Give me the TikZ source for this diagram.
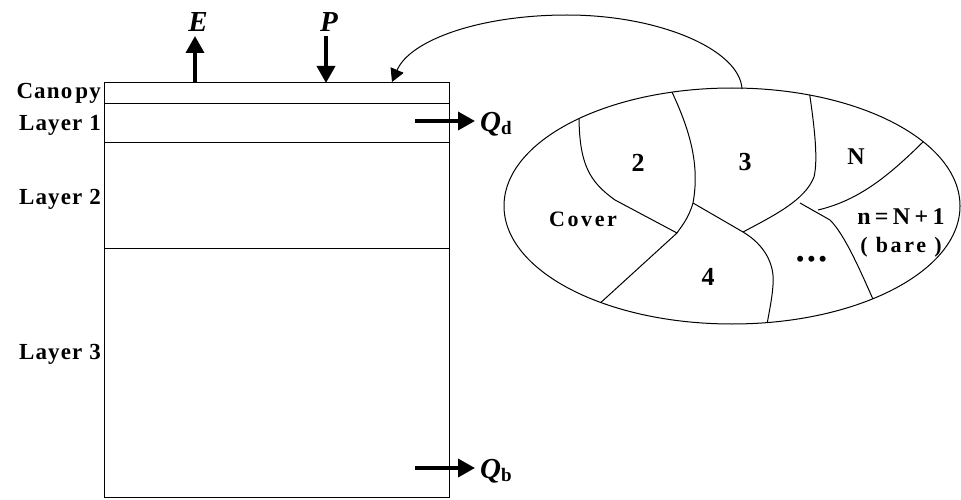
\documentclass[tikz,border=0pt]{standalone}
\usepackage{fontspec}
\setmainfont{Liberation Serif}
\newfontfamily\tnr{Liberation Serif}
\newfontfamily\tnrls[LetterSpace=5]{Liberation Serif}
\newfontfamily\tnrlsm[LetterSpace=12]{Liberation Serif}
\newfontfamily\tnrlsw[LetterSpace=18]{Liberation Serif}
\usetikzlibrary{arrows.meta,shapes.geometric}
\tikzset{
  thin line/.style={line width=1pt},
  flux/.style={line width=3.5pt,-{Triangle[length=17pt,width=18pt]}},
  linkarrow/.style={line width=1pt,-{Triangle[length=13pt,width=14pt]}},
  layerlab/.style={anchor=east,inner sep=0pt,font=\fontsize{23}{27}\selectfont\tnrls\bfseries},
  fluxlab/.style={inner sep=0pt,font=\fontsize{29}{32}\selectfont\tnr\bfseries\itshape},
  zonenum/.style={inner sep=0pt,font=\fontsize{26}{30}\selectfont\tnr\bfseries},
  zonelab/.style={inner sep=0pt,font=\fontsize{22}{26}\selectfont\tnrlsm\bfseries},
}
\begin{document}
\begin{tikzpicture}[x=1pt,y=-1pt]
\useasboundingbox (0,0) rectangle (961,500);
% soil column
\draw[thin line] (104,83) rectangle (449,497);
\draw[thin line] (104,104) -- (449,104);
\draw[thin line] (104,143) -- (449,143);
\draw[thin line] (104,248) -- (449,248);
\node[layerlab] (canopy) at (101,93) {Cano\kern3pt py};
\node[layerlab] (l1) at (101,125) {Layer 1};
\node[layerlab] (l2) at (101,199) {Layer 2};
\node[layerlab] (l3) at (101,354) {Layer 3};
% fluxes
\coordinate (Ebase) at (195,83);
\coordinate (Etip) at (195,36);
\coordinate (Ptop) at (326,36);
\coordinate (Ptip) at (326,83);
\draw[flux] (Ebase) -- (Etip);
\draw[flux] (Ptop) -- (Ptip);
\node[fluxlab] (E) at (198,22) {E};
\node[fluxlab] (P) at (329,22) {P};
\coordinate (Qds) at (415,121);
\coordinate (Qdt) at (475,121);
\coordinate (Qbs) at (415,468);
\coordinate (Qbt) at (475,468);
\draw[flux] (Qds) -- (Qdt);
\draw[flux] (Qbs) -- (Qbt);
\node[fluxlab,anchor=west] (Qd) at (480,124) {Q\raisebox{-3pt}{\fontsize{19}{20}\selectfont\upshape d}};
\node[fluxlab,anchor=west] (Qb) at (480,471) {Q\raisebox{-3pt}{\fontsize{19}{20}\selectfont\upshape b}};
% ellipse of land cover tiles
\node[draw,thin line,ellipse,minimum width=456pt,minimum height=236pt,inner sep=0pt] (tiles) at (732,206) {};
\begin{scope}
\clip (732,206) ellipse [x radius=228pt, y radius=118pt];
\draw[thin line] (579,115) .. controls (579,165) and (590,182) .. (615,200) -- (677,233);
\draw[thin line] (671,90) .. controls (690,130) and (700,165) .. (693,203) .. controls (688,220) and (680,228) .. (677,233) -- (597,306);
\draw[thin line] (693,203) -- (743,232) .. controls (765,245) and (775,265) .. (773,285) .. controls (772,300) and (769,312) .. (766,330);
\draw[thin line] (809,90) .. controls (815,130) and (818,160) .. (814,177) .. controls (805,200) and (775,215) .. (743,232);
\draw[thin line] (800,203) -- (830,220) .. controls (845,235) and (860,270) .. (876,306);
\draw[thin line] (928,137) .. controls (890,175) and (860,200) .. (818,210);
\end{scope}
\node[zonenum] (z2) at (638,163) {2};
\node[zonenum] (z3) at (745,162) {3};
\node[zonenum,font=\fontsize{24}{28}\selectfont\tnr\bfseries] (zN) at (856,157) {N};
\node[zonenum] (z4) at (708,277) {4};
\node[zonenum,font=\fontsize{25}{28}\selectfont\tnr] (zdots) at (811.5,261.5) {•\kern2.6pt•\kern2.6pt•};
\node[zonelab] (cover) at (583,219) {Cover};
\node[inner sep=0pt,font=\fontsize{24}{28}\selectfont\tnrlsw\bfseries] (bare1) at (901,217) {n=N+1};
\node[zonelab] (bare2) at (901,247) {( bare )};
% link from tiles to column
\coordinate (ltop) at (742,89);
\coordinate (ltip) at (392,82);
\draw[linkarrow] (ltop) .. controls (740,50) and (660,15) .. (567,15) .. controls (480,15) and (410,40) .. (ltip);
\end{tikzpicture}
\end{document}
